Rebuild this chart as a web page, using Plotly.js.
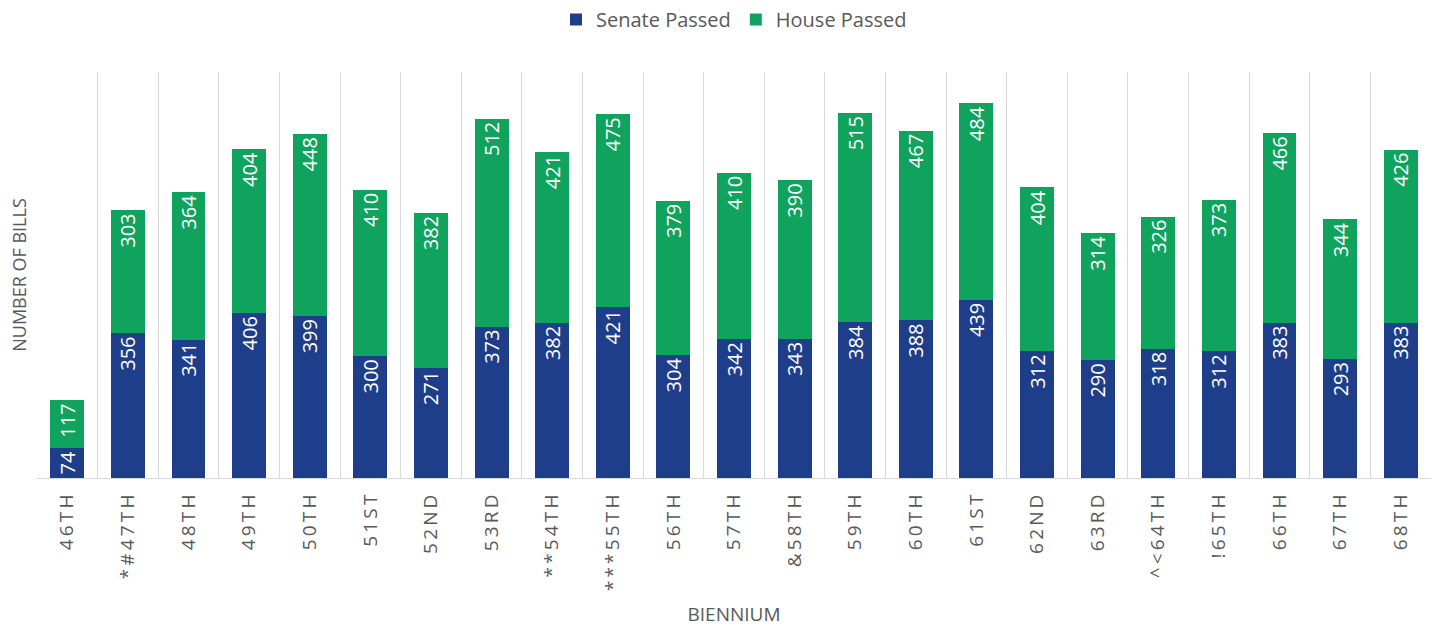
<!DOCTYPE html>
<html>
<head>
<meta charset="utf-8">
<script src="https://cdn.plot.ly/plotly-3.0.1.min.js"></script>
<style>html,body{margin:0;padding:0;background:#fff;}#chart{width:1435px;height:627px;}</style>
</head>
<body>
<div id="chart"></div>
<script>
var biennium = ["46TH","*#47TH","48TH","49TH","50TH","51ST","52ND","53RD","**54TH","***55TH","56TH","57TH","&58TH","59TH","60TH","61ST","62ND","63RD","^<64TH","!65TH","66TH","67TH","68TH"];
var senatePassed = [74,356,341,406,399,300,271,373,382,421,304,342,343,384,388,439,312,290,318,312,383,293,383];
var housePassed = [117,303,364,404,448,410,382,512,421,475,379,410,390,515,467,484,404,314,326,373,466,344,426];

var spaced = biennium.map(function(s){ return s.split('').join('\u2009'); });

var labelFont = {family: 'Open Sans, sans-serif', size: 20, color: '#ffffff'};
var common = {
  type: 'bar', x: spaced, textposition: 'inside', insidetextanchor: 'end',
  textangle: -90, constraintext: 'none', insidetextfont: labelFont,
  hoverinfo: 'none'
};
var t1 = Object.assign({}, common, {name: 'Senate Passed', y: senatePassed,
  text: senatePassed.map(String), marker: {color: '#1F3E8A'}});
var t2 = Object.assign({}, common, {name: 'House Passed', y: housePassed,
  text: housePassed.map(String), marker: {color: '#10A35E'}});

var layout = {
  width: 1435, height: 627,
  margin: {l: 37, r: 4, t: 72, b: 149},
  barmode: 'stack', bargap: 0.44,
  paper_bgcolor: '#ffffff', plot_bgcolor: '#ffffff',
  font: {family: 'Open Sans, sans-serif', color: '#595959'},
  showlegend: true,
  legend: {orientation: 'h', x: 0.5, xanchor: 'center', y: 1.0, yref: 'container', yanchor: 'top',
    font: {size: 20, color: '#595959'}, traceorder: 'normal', itemwidth: 30},
  xaxis: {
    type: 'category', tickson: 'boundaries', showgrid: true, gridcolor: '#d9d9d9', gridwidth: 1,
    showline: true, linecolor: '#d9d9d9', linewidth: 1, ticks: '', tickangle: -90,
    tickfont: {size: 19, color: '#595959'}, ticklabelstandoff: 8,
    title: {text: 'BIENNIUM', font: {size: 19, color: '#595959'}, standoff: 19}
  },
  yaxis: {
    range: [0, 1000], showgrid: false, zeroline: false, showticklabels: false, ticks: '',
    title: {text: 'NUMBER OF BILLS', font: {size: 18, color: '#595959'}, standoff: 4}
  }
};
Plotly.newPlot('chart', [t1, t2], layout, {displayModeBar: false, staticPlot: true});
</script>
</body>
</html>
